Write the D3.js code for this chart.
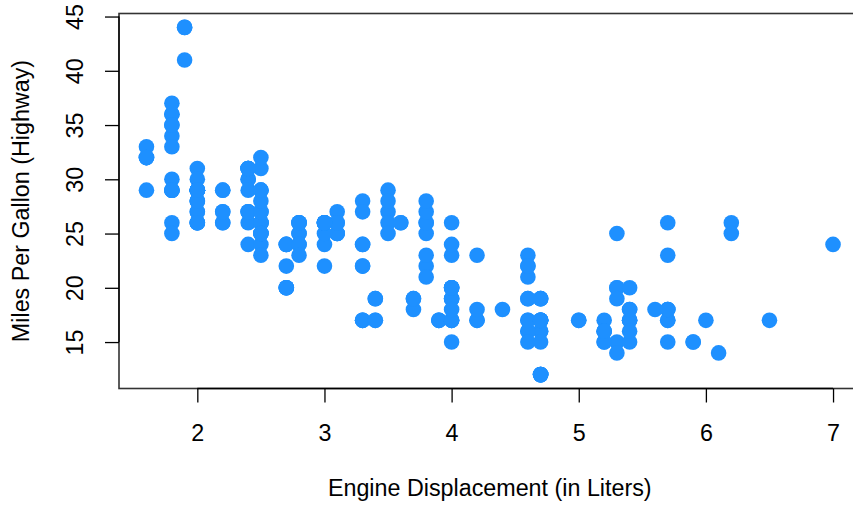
<!DOCTYPE html>
<html>
<head>
<meta charset="utf-8">
<script src="https://cdn.jsdelivr.net/npm/d3@7"></script>
<style>
  html, body { margin: 0; padding: 0; background: #fff; }
  svg { display: block; }
  text { font-family: "Liberation Sans", Arial, sans-serif; fill: #000; }
</style>
</head>
<body>
<svg id="chart" width="853" height="508"></svg>
<script>
// Engine displacement (litres) and highway MPG, one entry per car
const displ = [1.8,1.8,2.0,2.0,2.8,2.8,3.1,1.8,1.8,2.0,2.0,2.8,2.8,3.1,3.1,2.8,3.1,4.2,5.3,5.3,5.3,5.7,6.0,5.7,5.7,6.2,6.2,7.0,5.3,5.3,5.7,6.5,2.4,2.4,3.1,3.5,3.6,2.4,3.0,3.3,3.3,3.3,3.3,3.3,3.8,3.8,3.8,4.0,3.7,3.7,3.9,3.9,4.7,4.7,4.7,5.2,5.2,3.9,4.7,4.7,4.7,5.2,5.2,5.7,5.9,4.7,4.7,4.7,4.7,4.7,4.7,5.2,5.2,5.7,5.9,4.6,5.4,5.4,4.0,4.0,4.0,4.0,4.6,5.0,4.2,4.2,4.6,4.6,4.6,5.4,5.4,3.8,3.8,4.0,4.0,4.6,4.6,4.6,4.6,5.4,1.6,1.6,1.6,1.6,1.6,1.8,1.8,1.8,2.0,2.4,2.4,2.4,2.4,2.5,2.5,3.3,2.0,2.0,2.0,2.0,2.7,2.7,2.7,3.0,3.7,4.0,4.7,4.7,4.7,5.7,6.1,4.0,4.2,4.4,4.6,5.4,5.4,5.4,4.0,4.0,4.6,5.0,2.4,2.4,2.5,2.5,3.5,3.5,3.0,3.0,3.5,3.3,3.3,4.0,5.6,3.1,3.8,3.8,3.8,5.3,2.5,2.5,2.5,2.5,2.5,2.5,2.2,2.2,2.5,2.5,2.5,2.5,2.5,2.5,2.7,2.7,3.4,3.4,4.0,4.7,2.2,2.2,2.4,2.4,3.0,3.0,3.5,2.2,2.2,2.4,2.4,3.0,3.0,3.3,1.8,1.8,1.8,1.8,1.8,4.7,5.7,2.7,2.7,2.7,3.4,3.4,4.0,4.0,2.0,2.0,2.0,2.0,2.8,1.9,2.0,2.0,2.0,2.0,2.5,2.5,2.8,1.9,1.9,2.0,2.0,2.5,2.5,1.8,1.8,2.0,2.0,2.8,2.8,3.6];
const hwy = [29,29,31,30,26,26,27,26,25,28,27,25,25,25,25,24,25,23,20,15,20,17,17,26,23,26,25,24,19,14,15,17,27,30,26,29,26,24,24,22,22,24,24,17,22,21,23,23,19,18,17,17,19,19,12,17,15,17,17,12,17,16,16,18,15,16,12,17,17,16,12,15,16,17,15,17,17,18,17,19,17,19,19,17,17,17,16,16,17,15,17,26,25,26,24,21,22,23,22,20,33,32,32,29,32,34,36,36,29,26,27,30,31,26,26,28,26,29,28,27,24,24,24,22,19,20,17,12,19,18,14,15,18,18,15,17,16,18,17,19,19,17,29,27,31,32,27,26,26,25,25,17,17,20,18,26,26,27,28,25,25,24,27,25,26,23,26,26,26,26,25,27,25,27,20,20,19,17,20,17,29,27,31,31,26,26,28,27,29,31,31,26,26,27,30,33,35,37,35,15,18,20,20,22,17,19,18,20,29,26,29,29,24,44,29,26,29,29,29,29,23,44,41,29,26,28,29,29,29,28,29,26,26,26];
const xTicks = [2, 3, 4, 5, 6, 7];
const yTicks = [15, 20, 25, 30, 35, 40, 45];
const xTitle = "Engine Displacement (in Liters)";
const yTitle = "Miles Per Gallon (Highway)";

const svg = d3.select("#chart");
const mLeft = 119, mRight = 860.5, mTop = 13.5, mBottom = 388.5;
const FS = 23.3;

// R-style 4% range extension
const xExt = d3.extent(displ), yExt = d3.extent(hwy);
const xPad = (xExt[1] - xExt[0]) * 0.04, yPad = (yExt[1] - yExt[0]) * 0.04;
const x = d3.scaleLinear().domain([xExt[0] - xPad, xExt[1] + xPad]).range([mLeft, mRight]);
const y = d3.scaleLinear().domain([yExt[0] - yPad, yExt[1] + yPad]).range([mBottom, mTop]);

// points
svg.append("g").selectAll("circle")
  .data(d3.range(displ.length))
  .join("circle")
  .attr("cx", i => x(displ[i]))
  .attr("cy", i => y(hwy[i]))
  .attr("r", 7.8)
  .attr("fill", "#1E90FF");

// box
svg.append("rect")
  .attr("x", mLeft).attr("y", mTop)
  .attr("width", mRight - mLeft).attr("height", mBottom - mTop)
  .attr("fill", "none").attr("stroke", "#333").attr("stroke-width", 1.6);

// x axis
const xAxis = d3.axisBottom(x).tickValues(xTicks).tickSize(14).tickFormat(d3.format("d"));
const gx = svg.append("g").attr("transform", `translate(0,${mBottom})`).call(xAxis);
gx.select(".domain").attr("d", `M${x(xTicks[0])},0H${x(xTicks[xTicks.length-1])}`).attr("stroke", "#000").attr("stroke-width", 1.3);
gx.selectAll(".tick line").attr("stroke", "#000").attr("stroke-width", 1.3);
gx.selectAll(".tick text")
  .attr("font-size", FS).attr("font-family", "Liberation Sans, Arial, sans-serif").attr("fill", "#000")
  .attr("dy", null).attr("y", 52.2);

// y axis
const yAxis = d3.axisLeft(y).tickValues(yTicks).tickSize(14).tickFormat(d3.format("d"));
const gy = svg.append("g").attr("transform", `translate(${mLeft},0)`).call(yAxis);
gy.select(".domain").attr("d", `M0,${y(yTicks[0])}V${y(yTicks[yTicks.length-1])}`).attr("stroke", "#000").attr("stroke-width", 1.3);
gy.selectAll(".tick line").attr("stroke", "#000").attr("stroke-width", 1.3);
gy.selectAll(".tick text")
  .attr("font-size", FS).attr("font-family", "Liberation Sans, Arial, sans-serif").attr("fill", "#000")
  .attr("x", null).attr("dy", null)
  .attr("text-anchor", "middle")
  .attr("transform", "translate(-36,0) rotate(-90)");

// titles
svg.append("text")
  .attr("x", (mLeft + mRight) / 2).attr("y", 496)
  .attr("text-anchor", "middle").attr("font-size", FS)
  .text(xTitle);
svg.append("text")
  .attr("transform", `translate(29.3,${(mTop + mBottom) / 2}) rotate(-90)`)
  .attr("text-anchor", "middle").attr("font-size", FS)
  .text(yTitle);
</script>
</body>
</html>
